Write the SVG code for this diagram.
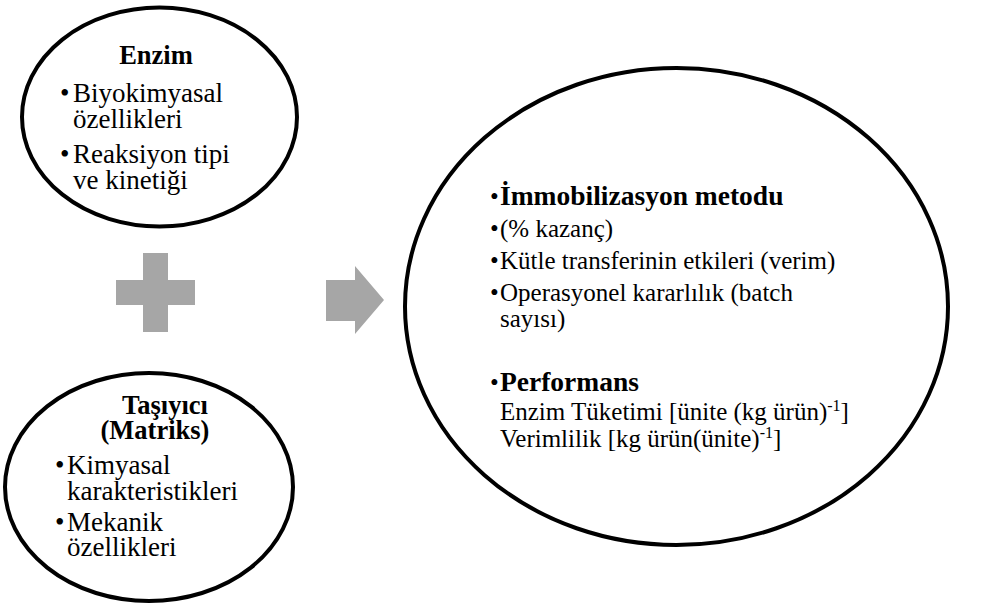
<svg xmlns="http://www.w3.org/2000/svg" width="984" height="604" viewBox="0 0 984 604">
<style>
.ell{fill:#fff;stroke:#000;stroke-width:4}
.t{font-size:27px;fill:#000}
.r{font-size:25px}
.b{font-weight:bold}
.bl{font-size:26.5px}
.br{font-size:27.5px}
.sym{fill:#a6a6a6}
.sup{font-size:16px}
</style>
<rect width="984" height="604" fill="#fff"/>
<g id="connectors">
<path class="sym" d="M143,253 H168 V280 H195 V305 H168 V332 H143 V305 H116 V280 H143 Z"/>
<path class="sym" d="M326,280 H355 V266 L384,300 L355,334 V321 H326 Z"/>
</g>
<g id="enzim" font-family="Liberation Serif, Times New Roman, serif">
<ellipse class="ell" cx="159.5" cy="117" rx="137.5" ry="109.5"/>
<text class="t b bl" x="156" y="64" text-anchor="middle">Enzim</text>
<text class="t" x="60" y="102">•</text>
<text class="t" x="73" y="102">Biyokimyasal</text>
<text class="t" x="73" y="128">özellikleri</text>
<text class="t" x="60" y="163">•</text>
<text class="t" x="73" y="163">Reaksiyon tipi</text>
<text class="t" x="73" y="189">ve kinetiği</text>
</g>
<g id="tasiyici" font-family="Liberation Serif, Times New Roman, serif">
<ellipse class="ell" cx="149" cy="487" rx="144" ry="114"/>
<text class="t b bl" x="165" y="414" text-anchor="middle">Taşıyıcı</text>
<text class="t b bl" x="155" y="439" text-anchor="middle">(Matriks)</text>
<text class="t" x="55" y="474">•</text>
<text class="t" x="67" y="474">Kimyasal</text>
<text class="t" x="67" y="500">karakteristikleri</text>
<text class="t" x="55" y="531">•</text>
<text class="t" x="67" y="531">Mekanik</text>
<text class="t" x="67" y="556">özellikleri</text>
</g>
<g id="sonuc" font-family="Liberation Serif, Times New Roman, serif">
<ellipse class="ell" cx="676.5" cy="306.5" rx="271.5" ry="238.5"/>
<text class="t r" x="490" y="205">•</text>
<text class="t b br" x="500" y="205" xml:space="preserve">İmmobilizasyon metodu</text>
<text class="t r" x="490" y="237">•</text>
<text class="t r" x="500" y="237">(% kazanç)</text>
<text class="t r" x="490" y="269">•</text>
<text class="t r" x="500" y="269">Kütle transferinin etkileri (verim)</text>
<text class="t r" x="490" y="301">•</text>
<text class="t r" x="500" y="301">Operasyonel kararlılık (batch</text>
<text class="t r" x="500" y="327">sayısı)</text>
<text class="t r" x="490" y="391">•</text>
<text class="t b br" x="500" y="391">Performans</text>
<text class="t r" x="500" y="420">Enzim Tüketimi [ünite (kg ürün)<tspan class="sup" dy="-9">-1</tspan><tspan dy="9">]</tspan></text>
<text class="t r" x="500" y="447">Verimlilik [kg ürün(ünite)<tspan class="sup" dy="-9">-1</tspan><tspan dy="9">]</tspan></text>
</g>
</svg>
